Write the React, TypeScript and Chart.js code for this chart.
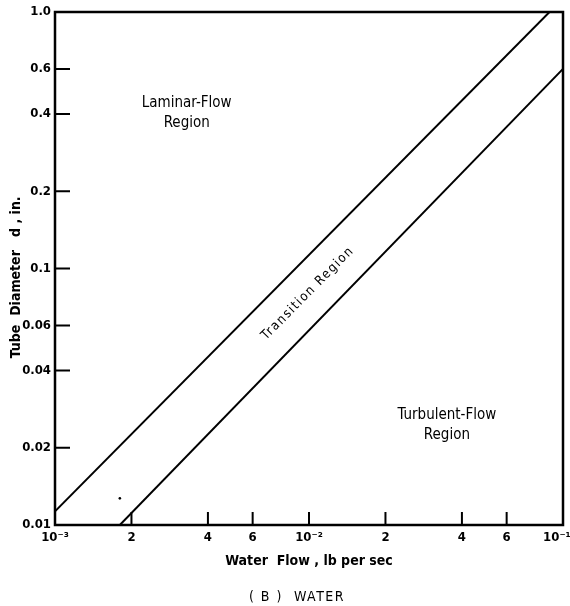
import React, { useEffect, useRef } from 'react';
import { Chart, registerables } from 'chart.js';

Chart.register(...registerables);

// ---- Axis ranges and ticks ----
const flowMin = 0.001;
const flowMax = 0.1;
const diameterMin = 0.01;
const diameterMax = 1.0;

const flowTickValues = [0.001, 0.002, 0.004, 0.006, 0.01, 0.02, 0.04, 0.06, 0.1];
const flowTickLabels = ['10⁻³', '2', '4', '6', '10⁻²', '2', '4', '6', '10⁻¹   '];
const flowTickMarks = [0.002, 0.004, 0.006, 0.01, 0.02, 0.04, 0.06];

const diameterTickValues = [0.01, 0.02, 0.04, 0.06, 0.1, 0.2, 0.4, 0.6, 1.0];
const diameterTickLabels = ['0.01', '0.02', '0.04', '0.06', '0.1', '0.2', '0.4', '0.6', '1.0'];
const diameterTickMarks = [0.02, 0.04, 0.06, 0.1, 0.2, 0.4, 0.6];

// ---- Boundary lines (water flow lb/sec, tube diameter in.) ----
const laminarBoundaryFlow = [0.001, 0.0885];
const laminarBoundaryDiameter = [0.0113, 1.0];
const turbulentBoundaryFlow = [0.0018, 0.1];
const turbulentBoundaryDiameter = [0.01, 0.6];

// small stray mark in the original figure
const strayMarkFlow = [0.0018];
const strayMarkDiameter = [0.0127];

// ---- Region labels (anchored in data units) ----
const regionLabelLines = [['Laminar-Flow', 'Region'], ['Turbulent-Flow', 'Region']];
const regionLabelFlow = [0.0033, 0.0349];
const regionLabelDiameter = [0.405, 0.0245];
const transitionLabel = 'Transition Region';
const transitionLabelFlow = 0.0099;
const transitionLabelDiameter = 0.08;

const xTitle = 'Water  Flow , lb per sec';
const yTitle = 'Tube  Diameter   d , in.    ';
const caption = '( B )  WATER';

const FONT = '"DejaVu Sans Condensed", "DejaVu Sans", sans-serif';

const decorPlugin = {
  id: 'decor',
  afterDraw(chart: any) {
    const { ctx, chartArea: a, scales } = chart;
    const xs = scales.x;
    const ys = scales.y;
    ctx.save();
    ctx.strokeStyle = '#000';
    ctx.fillStyle = '#000';
    ctx.lineCap = 'butt';
    // frame
    ctx.lineWidth = 2.5;
    ctx.strokeRect(a.left, a.top, a.right - a.left, a.bottom - a.top);
    // inward tick marks
    ctx.lineWidth = 2;
    ctx.beginPath();
    diameterTickMarks.forEach((v) => {
      const py = ys.getPixelForValue(v);
      ctx.moveTo(a.left, py);
      ctx.lineTo(a.left + 15, py);
    });
    flowTickMarks.forEach((v) => {
      const px = xs.getPixelForValue(v);
      ctx.moveTo(px, a.bottom);
      ctx.lineTo(px, a.bottom - 13);
    });
    ctx.stroke();

    // region labels
    ctx.font = `15px ${FONT}`;
    ctx.textAlign = 'center';
    ctx.textBaseline = 'middle';
    regionLabelLines.forEach((lines, i) => {
      const px = xs.getPixelForValue(regionLabelFlow[i]);
      const py = ys.getPixelForValue(regionLabelDiameter[i]);
      const lh = 20;
      lines.forEach((t, j) => {
        ctx.fillText(t, px, py + (j - (lines.length - 1) / 2) * lh);
      });
    });

    // transition label rotated along boundary slope
    const x0 = xs.getPixelForValue(laminarBoundaryFlow[0]);
    const y0 = ys.getPixelForValue(laminarBoundaryDiameter[0]);
    const x1 = xs.getPixelForValue(laminarBoundaryFlow[1]);
    const y1 = ys.getPixelForValue(laminarBoundaryDiameter[1]);
    const ang = Math.atan2(y1 - y0, x1 - x0);
    ctx.save();
    ctx.translate(xs.getPixelForValue(transitionLabelFlow), ys.getPixelForValue(transitionLabelDiameter));
    ctx.rotate(ang);
    (ctx as any).letterSpacing = '1.5px';
    ctx.font = `13px ${FONT}`;
    ctx.fillText(transitionLabel, 0, 0);
    ctx.restore();

    // caption
    ctx.font = `14px ${FONT}`;
    (ctx as any).letterSpacing = '1.5px';
    ctx.fillText(caption, 297, chart.height - 9);
    ctx.restore();
  },
};

export default function App() {
  const canvasRef = useRef<HTMLCanvasElement>(null);

  useEffect(() => {
    if (!canvasRef.current) return;
    const line = (xs: number[], ys: number[]) => xs.map((x, i) => ({ x, y: ys[i] }));
    const chart = new Chart(canvasRef.current, {
      type: 'line',
      data: {
        datasets: [
          {
            label: 'Laminar boundary',
            data: line(laminarBoundaryFlow, laminarBoundaryDiameter),
            borderColor: '#000',
            borderWidth: 2,
            pointRadius: 0,
            fill: false,
          },
          {
            label: 'Turbulent boundary',
            data: line(turbulentBoundaryFlow, turbulentBoundaryDiameter),
            borderColor: '#000',
            borderWidth: 2,
            pointRadius: 0,
            fill: false,
          },
          {
            label: 'mark',
            data: line(strayMarkFlow, strayMarkDiameter),
            showLine: false,
            pointRadius: 1.3,
            pointBackgroundColor: '#000',
            pointBorderWidth: 0,
          },
        ],
      },
      options: {
        animation: false,
        responsive: true,
        maintainAspectRatio: false,
        layout: { padding: { top: 12, right: 7, left: 0, bottom: 21 } },
        plugins: {
          legend: { display: false },
          tooltip: { enabled: false },
          title: { display: false },
        },
        scales: {
          x: {
            type: 'logarithmic',
            min: flowMin,
            max: flowMax,
            grid: { display: false, drawTicks: false },
            border: { display: false },
            afterBuildTicks: (s: any) => {
              s.ticks = flowTickValues.map((v) => ({ value: v }));
            },
            afterFit: (s: any) => {
              s.height = 60;
              s.paddingLeft = 0;
              s.paddingRight = 0;
            },
            ticks: {
              autoSkip: false,
              maxRotation: 0,
              minRotation: 0,
              padding: 5,
              color: '#000',
              font: { family: FONT, size: 13, weight: 'bold' },
              callback: (_v: any, i: number) => flowTickLabels[i],
            },
            title: {
              display: true,
              text: xTitle,
              color: '#000',
              font: { family: FONT, size: 14, weight: 'bold' },
              padding: { top: 0, bottom: 15 },
            },
          },
          y: {
            type: 'logarithmic',
            min: diameterMin,
            max: diameterMax,
            grid: { display: false, drawTicks: false },
            border: { display: false },
            afterBuildTicks: (s: any) => {
              s.ticks = diameterTickValues.map((v) => ({ value: v }));
            },
            afterFit: (s: any) => {
              s.width = 55;
            },
            ticks: {
              autoSkip: false,
              padding: 4,
              color: '#000',
              font: { family: FONT, size: 13, weight: 'bold' },
              callback: (_v: any, i: number) => diameterTickLabels[i],
            },
            title: {
              display: true,
              text: yTitle,
              color: '#000',
              font: { family: FONT, size: 14, weight: 'bold' },
              padding: { top: 8, bottom: 0 },
            },
          },
        },
      } as any,
      plugins: [decorPlugin],
    });
    return () => chart.destroy();
  }, []);

  return (
    <div style={{ position: 'fixed', left: 0, top: 0, width: 570, height: 606, background: '#fff' }}>
      <canvas ref={canvasRef} />
    </div>
  );
}
